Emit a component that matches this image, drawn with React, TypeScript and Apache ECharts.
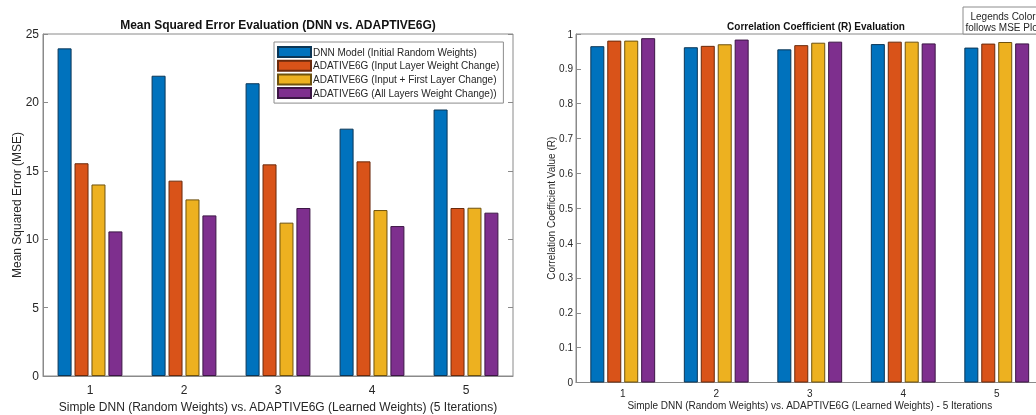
import React, { useEffect, useRef } from "react";
import * as echarts from "echarts";

const categories = ["1", "2", "3", "4", "5"];
const seriesNames = [
  "DNN Model (Initial Random Weights)",
  "ADATIVE6G (Input Layer Weight Change)",
  "ADATIVE6G (Input + First Layer Change)",
  "ADATIVE6G (All Layers Weight Change))",
];
const mseDnn = [23.95, 21.95, 21.4, 18.08, 19.48];
const mseInput = [15.55, 14.28, 15.47, 15.69, 12.28];
const mseFirst = [14.0, 12.91, 11.21, 12.13, 12.3];
const mseAll = [10.57, 11.74, 12.28, 10.96, 11.94];

const rDnn = [0.965, 0.962, 0.956, 0.971, 0.961];
const rInput = [0.981, 0.966, 0.968, 0.978, 0.9725];
const rFirst = [0.981, 0.9705, 0.975, 0.978, 0.977];
const rAll = [0.988, 0.984, 0.978, 0.973, 0.973];

const colors = ["#0072BD", "#D95319", "#EDB120", "#7E2F8E"];
const edges = ["#0b3656", "#6a2a0c", "#6e520e", "#3c1645"];

const FONT = "Liberation Sans, Arial, sans-serif";
const AXIS = "#8a8a8a";
const TEXT = "#262626";

export default function App() {
  const ref = useRef<HTMLDivElement>(null);
  useEffect(() => {
    if (!ref.current) return;
    const chart = echarts.init(ref.current, null, { renderer: "svg" });
    const mse = [mseDnn, mseInput, mseFirst, mseAll];
    const rr = [rDnn, rInput, rFirst, rAll];
    const mkBar = (i: number, data: number[], axisIdx: number) => ({
      type: "bar",
      name: seriesNames[i],
      xAxisIndex: axisIdx,
      yAxisIndex: axisIdx,
      data,
      barWidth: 14,
      barGap: "21%",
      itemStyle: { color: colors[i], borderColor: edges[i], borderWidth: 1 },
    });
    const catAxis = (gridIndex: number, fontSize: number, name: string, gap: number, margin: number) => ({
      type: "category",
      gridIndex,
      data: categories,
      name,
      nameLocation: "middle",
      nameGap: gap,
      nameMoveOverlap: false,
      nameTextStyle: { color: TEXT, fontSize, fontFamily: FONT },
      axisLine: { lineStyle: { color: AXIS } },
      axisTick: { inside: true, alignWithLabel: true, length: 5, lineStyle: { color: AXIS } },
      axisLabel: { color: TEXT, fontSize, fontFamily: FONT, margin },
    });
    const topAxis = (gridIndex: number) => ({
      type: "category",
      gridIndex,
      data: categories,
      position: "top",
      axisLine: { show: false },
      axisTick: { inside: true, alignWithLabel: true, length: 5, lineStyle: { color: AXIS } },
      axisLabel: { show: false },
    });
    chart.setOption({
      animation: false,
      title: [
        {
          text: "Mean Squared Error Evaluation (DNN vs. ADAPTIVE6G)",
          left: 278,
          textAlign: "center",
          top: 18.5,
          padding: 0,
          textStyle: { fontSize: 12, fontWeight: "bold", color: "#111", fontFamily: FONT },
        },
        {
          text: "Correlation Coefficient (R) Evaluation",
          left: 816,
          textAlign: "center",
          top: 21,
          padding: 0,
          textStyle: { fontSize: 10, fontWeight: "bold", color: "#111", fontFamily: FONT },
        },
      ],
      legend: {
        data: seriesNames,
        orient: "vertical",
        left: 274,
        top: 42,
        icon: "rect",
        itemWidth: 33,
        itemHeight: 10,
        itemGap: 1.7,
        padding: [4, 4, 4, 3],
        backgroundColor: "#fff",
        borderColor: "#8c8c8c",
        borderWidth: 1,
        borderRadius: 0,
        textStyle: { fontSize: 10, color: TEXT, fontFamily: FONT, padding: [0, 0, 0, -3] },
      },
      grid: [
        {
          left: 43, top: 34, width: 470, height: 342, show: true,
          borderColor: AXIS, borderWidth: 1, outerBoundsMode: "none", containLabel: false,
        },
        {
          left: 576, top: 34, width: 467.5, height: 348.5, show: true,
          borderColor: AXIS, borderWidth: 1, outerBoundsMode: "none", containLabel: false,
        },
      ],
      xAxis: [
        catAxis(0, 12, "Simple DNN (Random Weights) vs. ADAPTIVE6G (Learned Weights) (5 Iterations)", 25, 8),
        catAxis(1, 10, "Simple DNN (Random Weights) vs. ADAPTIVE6G (Learned Weights) - 5 Iterations", 18, 6),
        topAxis(0),
        topAxis(1),
      ],
      yAxis: [
        {
          type: "value",
          gridIndex: 0,
          min: 0,
          max: 25,
          interval: 5,
          name: "Mean Squared Error (MSE)",
          nameLocation: "middle",
          nameGap: 20,
          nameMoveOverlap: false,
          nameTextStyle: { color: TEXT, fontSize: 12, fontFamily: FONT },
          axisLine: { show: true, lineStyle: { color: AXIS } },
          axisTick: { show: true, inside: true, length: 5, lineStyle: { color: AXIS } },
          axisLabel: { color: TEXT, fontSize: 12, fontFamily: FONT, margin: 4 },
          splitLine: { show: false },
        },
        {
          type: "value",
          gridIndex: 1,
          min: 0,
          max: 1,
          interval: 0.1,
          name: "Correlation Coefficient Value (R)",
          nameLocation: "middle",
          nameGap: 20,
          nameMoveOverlap: false,
          nameTextStyle: { color: TEXT, fontSize: 10, fontFamily: FONT },
          axisLine: { show: true, lineStyle: { color: AXIS } },
          axisTick: { show: true, inside: true, length: 5, lineStyle: { color: AXIS } },
          axisLabel: { color: TEXT, fontSize: 10, fontFamily: FONT, margin: 3 },
          splitLine: { show: false },
        },
        {
          type: "value",
          gridIndex: 0,
          position: "right",
          min: 0,
          max: 25,
          interval: 5,
          axisLine: { show: false },
          axisTick: { show: true, inside: true, length: 5, lineStyle: { color: AXIS } },
          axisLabel: { show: false },
          splitLine: { show: false },
        },
      ],
      series: [
        ...mse.map((d, i) => mkBar(i, d, 0)),
        ...rr.map((d, i) => mkBar(i, d, 1)),
      ],
      graphic: [
        {
          type: "rect",
          shape: { x: 963, y: 7, width: 80, height: 27 },
          style: { fill: "#fff", stroke: "#8c8c8c", lineWidth: 1 },
          z: 100,
        },
        {
          type: "text",
          x: 1003,
          y: 10.5,
          z: 101,
          style: {
            text: "Legends Color\nfollows MSE Plot",
            align: "center",
            fontSize: 10,
            lineHeight: 11,
            fill: TEXT,
            fontFamily: FONT,
          },
        },
      ],
    });
    return () => chart.dispose();
  }, []);
  return (
    <div
      ref={ref}
      style={{ position: "fixed", left: 0, top: 0, width: 1036, height: 415 }}
    />
  );
}
